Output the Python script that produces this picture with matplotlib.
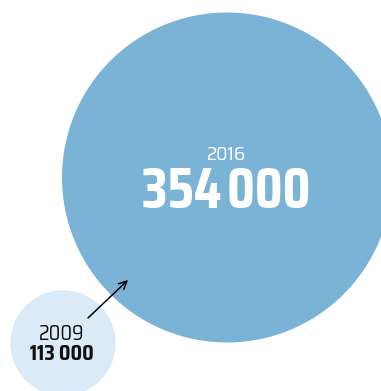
import matplotlib
matplotlib.use('Agg')
import matplotlib.pyplot as plt
from matplotlib.patches import Circle

# data
years = ['2009', '2016']
values = [113000, 354000]
labels = ['113\u2009000', '354\u200a000']
colors = ['#daeaf6', '#7bb3d7']

plt.rcParams['font.family'] = ['Saira SemiCondensed', 'DejaVu Sans']

fig = plt.figure(figsize=(3.81, 3.91), dpi=100)
ax = fig.add_axes([0, 0, 1, 1])
ax.set_xlim(0, 381)
ax.set_ylim(391, 0)
ax.set_aspect('equal')
ax.axis('off')

# radius proportional to value, largest circle 165 px
scale = 165 / max(values)
centers = [(63, 343), (227, 177.5)]

for (cx, cy), v, c in zip(centers, values, colors):
    ax.add_patch(Circle((cx, cy), v * scale, color=c, lw=0, zorder=1))

# small circle labels
ax.text(62, 334.5, years[0], ha='center', va='center', fontsize=14.5,
        fontweight='normal', color='#111111')
ax.text(62, 354.5, labels[0], ha='center', va='center', fontsize=14.5,
        fontweight='bold', color='#111111')

# big circle labels
ax.text(226, 155, years[1], ha='center', va='center', fontsize=14,
        fontweight='normal', color='white')
ax.text(226, 192.5, labels[1], ha='center', va='center', fontsize=42,
        fontweight='bold', color='white', family=['Saira Condensed', 'DejaVu Sans'])

# arrow
ax.annotate('', xy=(128, 280), xytext=(88, 318),
            arrowprops=dict(arrowstyle='->', color='black', lw=1.1,
                            mutation_scale=14, shrinkA=0, shrinkB=0), zorder=3)

fig.savefig('out.png', dpi=100)
